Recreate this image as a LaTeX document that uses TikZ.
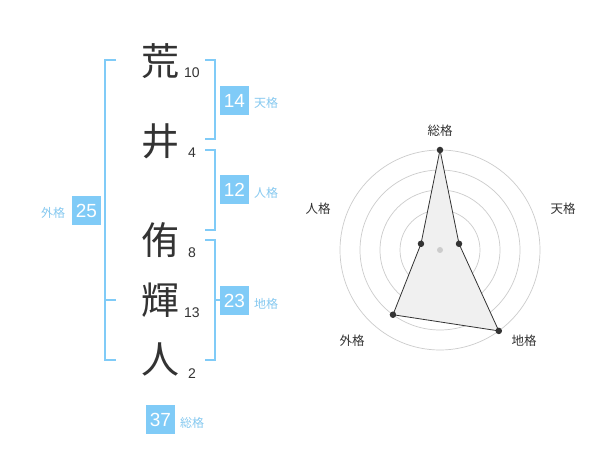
\documentclass[tikz,border=0pt]{standalone}
\usepackage{fontspec}
\setmainfont{Liberation Sans}
\newfontfamily\jpfont{Noto Sans CJK JP}
\definecolor{skyb}{HTML}{80CBF7}
\definecolor{skyt}{HTML}{86C9F0}
\definecolor{ringc}{HTML}{CCCCCC}
\definecolor{darkt}{HTML}{333333}
\begin{document}
\begin{tikzpicture}[x=1pt,y=-1pt,
  kanji/.style={inner sep=0pt,font=\jpfont\fontsize{38}{40}\selectfont,text=darkt},
  strokes/.style={inner sep=0pt,font=\fontsize{14}{16}\selectfont,text=darkt},
  numbox/.style={fill=skyb,minimum width=29pt,minimum height=29pt,inner sep=0pt,text=white,font=\fontsize{19}{20}\selectfont},
  kakulabel/.style={inner sep=0pt,text=skyt,font=\jpfont\fontsize{12}{14}\selectfont},
  bracket/.style={draw=skyb,line width=2pt},
  ring/.style={draw=ringc,line width=0.7pt},
  radlabel/.style={inner sep=0pt,text=darkt,font=\jpfont\fontsize{12.5}{14}\selectfont},
  dot/.style={circle,fill=darkt,inner sep=0pt,minimum size=6.5pt}]
\useasboundingbox (0,0) rectangle (600,470);
\fill[white] (0,0) rectangle (600,470);
% kanji
\node[kanji] (k1) at (160,61) {荒};
\node[kanji] (k2) at (160,141) {井};
\node[kanji] (k3) at (160,240) {侑};
\node[kanji] (k4) at (160,300) {輝};
\node[kanji] (k5) at (160,359) {人};
\node[strokes] (s1) at (192,73) {10};
\node[strokes] (s2) at (192,153) {4};
\node[strokes] (s3) at (192,253) {8};
\node[strokes] (s4) at (192,313) {13};
\node[strokes] (s5) at (192,374) {2};
% brackets
\draw[bracket] (205,60) -- (214.5,60) -- (214.5,139.5) -- (205,139.5);
\draw[bracket] (205,150) -- (214.5,150) -- (214.5,230) -- (205,230);
\draw[bracket] (205,240) -- (214.5,240) -- (214.5,360) -- (205,360);
\draw[bracket] (214.5,300) -- (220,300);
\draw[bracket] (116,60) -- (104.5,60) -- (104.5,360) -- (116,360);
\draw[bracket] (104.5,300) -- (116,300);
% boxes
\node[numbox] (b1) at (234.5,100.5) {14};
\node[kakulabel,anchor=west] (l1) at (254,103) {天格};
\node[numbox] (b2) at (234.5,190) {12};
\node[kakulabel,anchor=west] (l2) at (254,193) {人格};
\node[numbox] (b3) at (234.5,300.5) {23};
\node[kakulabel,anchor=west] (l3) at (254,304) {地格};
\node[numbox] (b4) at (86.5,210.5) {25};
\node[kakulabel] (l4) at (53,213) {外格};
\node[numbox] (b5) at (160.5,419.5) {37};
\node[kakulabel,anchor=west] (l5) at (180,423) {総格};
% radar
\begin{scope}[shift={(440,250)}]
\foreach \r in {20,40,60,80,100} \draw[ring] (0,0) circle (\r);
\coordinate (pS) at (-90:100);
\coordinate (pT) at (-18:20);
\coordinate (pC) at (54:100);
\coordinate (pG) at (126:80);
\coordinate (pJ) at (198:20);
\filldraw[fill=black!6,draw=darkt,line width=0.8pt] (pS) -- (pT) -- (pC) -- (pG) -- (pJ) -- cycle;
\foreach \p in {pS,pT,pC,pG,pJ} \node[dot] at (\p) {};
\node[circle,fill=ringc,inner sep=0pt,minimum size=6pt] (ctr) at (0,0) {};
\node[radlabel] (rS) at (0,-119) {総格};
\node[radlabel] (rT) at (123,-41) {天格};
\node[radlabel] (rC) at (84,91) {地格};
\node[radlabel] (rG) at (-88,91) {外格};
\node[radlabel] (rJ) at (-122,-41) {人格};
\end{scope}
\end{tikzpicture}
\end{document}
